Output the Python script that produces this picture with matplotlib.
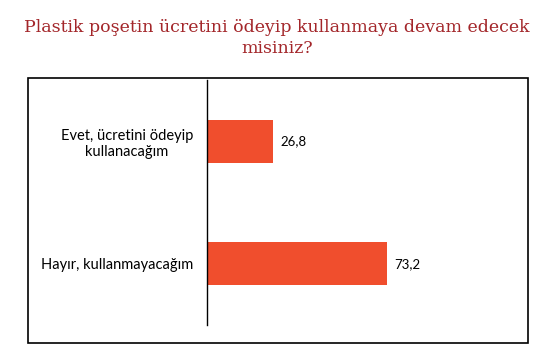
import matplotlib.pyplot as plt
from matplotlib.patches import Rectangle

# data
categories = ["Evet, ücretini ödeyip\nkullanacağım", "Hayır, kullanmayacağım"]
values = [26.8, 73.2]
value_labels = ["26,8", "73,2"]
title_lines = ["Plastik poşetin ücretini ödeyip kullanmaya devam edecek", "misiniz?"]

fig = plt.figure(figsize=(5.56, 3.56), dpi=100)

# frame around the plot
fig.patches.append(Rectangle((28/556, 1-343/356), 500/556, 265/356, transform=fig.transFigure,
                             fill=False, edgecolor="black", linewidth=1.2))

# title, one text per line
for line, base in zip(title_lines, [32, 53]):
    fig.text(277/556, 1-base/356, line, ha="center", va="baseline", fontsize=12.5,
             family="DejaVu Serif", color="#A3262A")

ax = fig.add_axes([207/556, 1-325/356, 246/556, 245/356])
pos = list(range(len(categories)))
ax.barh(pos, values, height=0.35, color="#F04E2D")
ax.set_xlim(0, 100)
ax.set_ylim(1.5, -0.5)

for p, v, lab in zip(pos, values, value_labels):
    ax.text(v + 3, p, lab, va="center", ha="left", fontsize=9.5, family="Lato")

ax.set_yticks(pos)
ax.set_yticklabels(categories, fontsize=10.5, family="Lato", multialignment="center")
ax.tick_params(axis="y", length=0, pad=10)
ax.set_xticks([])
for s in ["top", "right", "bottom"]:
    ax.spines[s].set_visible(False)
ax.spines["left"].set_linewidth(1)

fig.savefig("out.png", dpi=100)
